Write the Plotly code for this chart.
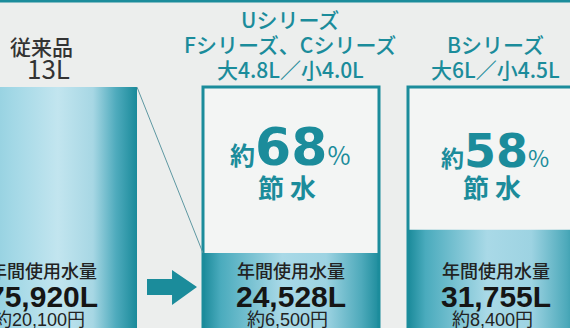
import plotly.graph_objects as go

# ---- data ----
categories = ["従来品", "Uシリーズ", "Bシリーズ"]
header_lines = [["従来品", "13L"],
                ["Uシリーズ", "Fシリーズ、Cシリーズ", "大4.8L／小4.0L"],
                ["Bシリーズ", "大6L／小4.5L"]]
annual_water_l = [75920, 24528, 31755]
annual_cost_yen = [20100, 6500, 8400]
saving_pct = [None, 68, 58]

# ---- layout constants (pixel space of a 570x328 canvas) ----
W, H = 570, 328
BASE_PX, PX_PER_L = 332.3, 0.00323          # vertical scale of the bars
Y_RANGE = [(BASE_PX - H) / PX_PER_L, BASE_PX / PX_PER_L]
BAR_LEFT = [-39, 203, 408]
BAR_W = 176
TEXT_X = [43, 291, 496]
PCT_X = [None, 290, 495]
PCT_Y = [None, 147, 151]
PCT_SIZE = [None, 52, 46]

TEAL = "#1b8c9b"
BG = "#eceeed"
BOX_BG = "#f3f5f4"


def px(x):
    return x / W


def py(y):
    return 1 - y / H


def rect(x0, w, v0, v1):
    return [x0, x0 + w, x0 + w, x0, x0], [v0, v0, v1, v1, v0]


fig = go.Figure()
ref_val = annual_water_l[0]

for i, val in enumerate(annual_water_l):
    x0 = BAR_LEFT[i]
    if i == 0:
        xs, ys = rect(x0, BAR_W, 0, val)
        fig.add_trace(go.Scatter(
            x=xs, y=ys, mode="lines", fill="toself", line=dict(width=0),
            fillgradient=dict(type="horizontal", colorscale=[
                [0, "#7cc5d7"], [0.3, "#a3d8e6"], [0.55, "#c2e5ef"],
                [0.75, "#a7d7e4"], [0.88, "#4fabbd"], [1, "#198a9a"]]),
            hoverinfo="skip", showlegend=False))
    else:
        # previous-model volume as an empty frame
        xs, ys = rect(x0, BAR_W, 0, ref_val)
        fig.add_trace(go.Scatter(
            x=xs, y=ys, mode="lines", fill="toself", fillcolor=BOX_BG,
            line=dict(width=0), hoverinfo="skip", showlegend=False))
        xs, ys = rect(x0, BAR_W, 0, val)
        fig.add_trace(go.Scatter(
            x=xs, y=ys, mode="lines", fill="toself", line=dict(width=0),
            fillgradient=dict(type="horizontal", colorscale=[
                [0, "#1a8a9a"], [0.1, "#4aabbd"], [0.45, "#a9d9e7"],
                [0.7, "#9dd3e2"], [0.9, "#4eaabb"], [1, "#1e8d9d"]]),
            hoverinfo="skip", showlegend=False))
        xs, ys = rect(x0, BAR_W, 0, ref_val)
        fig.add_trace(go.Scatter(
            x=xs, y=ys, mode="lines", line=dict(color=TEAL, width=3),
            hoverinfo="skip", showlegend=False))

# guide line from the old bar top to the new bar level
fig.add_trace(go.Scatter(
    x=[BAR_LEFT[0] + BAR_W, BAR_LEFT[1]], y=[annual_water_l[0], annual_water_l[1]],
    mode="lines", line=dict(color="#5e98a2", width=1),
    hoverinfo="skip", showlegend=False))

ann = []
JP = "Noto Sans CJK JP"
LAT = "Liberation Sans, Noto Sans CJK JP"
NUM = "DejaVu Sans, Noto Sans CJK JP"


def label(x, y, text, **font):
    ann.append(dict(x=px(x), y=py(y), xref="paper", yref="paper", text=text,
                    showarrow=False, xanchor="center", yanchor="middle",
                    font=font))


# headers
label(TEXT_X[0] - 1, 46, header_lines[0][0], family=JP, size=21, weight=500, color="#333333")
label(TEXT_X[0] + 5, 68, header_lines[0][1], family=JP, size=26, color="#333333")
for i in (1, 2):
    lines = header_lines[i]
    n = len(lines)
    for k, t in enumerate(lines):
        label(TEXT_X[i] - 1, 69 - (n - 1 - k) * 25, t, family=JP, size=21,
              weight=500, color=TEAL)

# saving percentages
for i, p in enumerate(saving_pct):
    if p is None:
        continue
    s = PCT_SIZE[i]
    small = int(round(s * 0.49))
    txt = (f"<b><span style='font-family:{JP};font-size:{small}px'>約</span>{p}</b>"
           f"<span style='font-family:{JP};font-size:{small}px'>%</span>")
    label(PCT_X[i], PCT_Y[i], txt, family=NUM, size=s, color=TEAL)
    label(PCT_X[i] - 3, 187, "<b>節\u00a0水</b>", family=JP, size=26, color=TEAL)

# annual usage labels
for i, val in enumerate(annual_water_l):
    label(TEXT_X[i], 270, "年間使用水量", family=JP, size=18, weight=500, color="#222222")
    label(TEXT_X[i], 296, f"<b>{val:,}L</b>", family=LAT, size=30, color="#151515")
    label(TEXT_X[i] - 4, 320, f"約{annual_cost_yen[i]:,}円", family=LAT, size=18, color="#222222")

# arrow between old and new
arrow_pts = [(147, 279), (172, 279), (172, 270), (197, 287),
             (172, 305), (172, 295), (147, 295)]
path = "M " + " L ".join(f"{px(a):.4f},{py(b):.4f}" for a, b in arrow_pts) + " Z"
shapes = [
    dict(type="path", xref="paper", yref="paper", path=path,
         fillcolor=TEAL, line=dict(width=0)),
    dict(type="line", xref="paper", yref="paper", x0=0, x1=1, y0=py(1), y1=py(1),
         line=dict(color=TEAL, width=3)),
]

fig.update_layout(
    width=W, height=H, margin=dict(l=0, r=0, t=0, b=0),
    paper_bgcolor=BG, plot_bgcolor=BG,
    xaxis=dict(range=[0, W], visible=False, fixedrange=True),
    yaxis=dict(range=Y_RANGE, visible=False, fixedrange=True),
    annotations=ann, shapes=shapes, showlegend=False,
)

fig.write_html("out.html")
